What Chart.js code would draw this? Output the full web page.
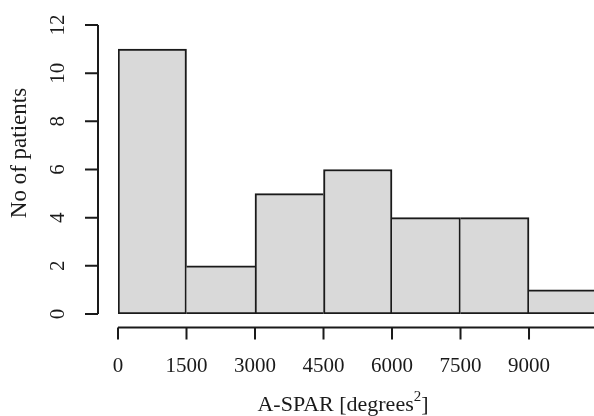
<!DOCTYPE html>
<html>
<head>
<meta charset="utf-8">
<script src="https://cdn.jsdelivr.net/npm/chart.js@4/dist/chart.umd.min.js"></script>
<style>
  html, body { margin: 0; padding: 0; background: #fff; }
  #wrap { width: 594px; height: 416px; position: relative; }
</style>
</head>
<body>
<div id="wrap"><canvas id="hist"></canvas></div>
<script>
// histogram bins (lower edge) and counts
const binStarts = [0, 1500, 3000, 4500, 6000, 7500, 9000];
const binWidth = 1500;
const counts = [11, 2, 5, 6, 4, 4, 1];
const xTicks = [0, 1500, 3000, 4500, 6000, 7500, 9000, 10500];
const yTicks = [0, 2, 4, 6, 8, 10, 12];
const xTitle = "A-SPAR [degrees";
const yTitle = "No of patients";

const FONT = "'Liberation Serif', 'Times New Roman', serif";
const INK = "#1a1a1a";

// shared edges between bins are drawn once, by the taller bar
function edgeWidths(i) {
  const prev = i > 0 ? counts[i - 1] : -1;
  const next = i < counts.length - 1 ? counts[i + 1] : -1;
  return {
    top: 2,
    bottom: 2,
    left: prev < counts[i] ? 2 : 0,
    right: next <= counts[i] ? 2 : 0,
  };
}

// R style axes drawn from the chart's own scales
const rAxes = {
  id: "rAxes",
  afterDraw(chart) {
    const ctx = chart.ctx;
    const xs = chart.scales.x;
    const ys = chart.scales.y;
    ctx.save();
    ctx.strokeStyle = INK;
    ctx.fillStyle = INK;
    ctx.lineWidth = 2;
    ctx.font = "21px " + FONT;

    // y axis
    const yAxisX = 98;
    const y0 = ys.getPixelForValue(ys.ticks[0].value);
    const y1 = ys.getPixelForValue(ys.ticks[ys.ticks.length - 1].value);
    ctx.beginPath();
    ctx.moveTo(yAxisX, y0);
    ctx.lineTo(yAxisX, y1);
    ys.ticks.forEach((t) => {
      const py = ys.getPixelForValue(t.value);
      ctx.moveTo(yAxisX, py);
      ctx.lineTo(yAxisX - 13, py);
    });
    ctx.stroke();
    ctx.textAlign = "center";
    ctx.textBaseline = "middle";
    ys.ticks.forEach((t) => {
      const py = ys.getPixelForValue(t.value);
      ctx.save();
      ctx.translate(58, py);
      ctx.rotate(-Math.PI / 2);
      ctx.fillText(String(t.value), 0, 0);
      ctx.restore();
    });

    // x axis
    const xAxisY = 327.5;
    const xa = xs.getPixelForValue(xs.ticks[0].value);
    const xb = xs.getPixelForValue(xs.ticks[xs.ticks.length - 1].value);
    ctx.beginPath();
    ctx.moveTo(xa, xAxisY);
    ctx.lineTo(xb, xAxisY);
    xs.ticks.forEach((t) => {
      const px = xs.getPixelForValue(t.value);
      ctx.moveTo(px, xAxisY);
      ctx.lineTo(px, xAxisY + 12);
    });
    ctx.stroke();
    xs.ticks.forEach((t) => {
      const px = xs.getPixelForValue(t.value);
      const tw = ctx.measureText(String(t.value)).width;
      if (px + tw / 2 <= chart.width) ctx.fillText(String(t.value), px, 366);
    });

    // titles
    const big = "22px " + FONT;
    const small = "15px " + FONT;
    ctx.font = big;
    const w = ctx.measureText(xTitle).width;
    const wb = ctx.measureText("]").width;
    ctx.font = small;
    const ws = ctx.measureText("2").width;
    const startX = 343 - (w + ws + wb) / 2;
    ctx.textAlign = "left";
    ctx.font = big;
    ctx.fillText(xTitle, startX, 405);
    ctx.font = small;
    ctx.fillText("2", startX + w, 397);
    ctx.font = big;
    ctx.fillText("]", startX + w + ws, 405);

    ctx.save();
    ctx.font = "23px " + FONT;
    ctx.translate(20, 153);
    ctx.rotate(-Math.PI / 2);
    ctx.textAlign = "center";
    ctx.fillText(yTitle, 0, 0);
    ctx.restore();
    ctx.restore();
  },
};

const ctx = document.getElementById("hist").getContext("2d");
new Chart(ctx, {
  type: "bar",
  data: {
    datasets: [
      {
        data: binStarts.map((s, i) => ({ x: s + binWidth / 2, y: counts[i] })),
        backgroundColor: "#d9d9d9",
        borderColor: INK,
        borderWidth: (c) => edgeWidths(c.dataIndex),
        borderSkipped: false,
        barPercentage: 1,
        categoryPercentage: 1,
      },
    ],
  },
  options: {
    responsive: true,
    maintainAspectRatio: false,
    animation: false,
    layout: { padding: { left: 118, right: 0, top: 25, bottom: 102 } },
    plugins: { legend: { display: false }, tooltip: { enabled: false } },
    scales: {
      x: {
        type: "linear",
        display: false,
        offset: false,
        min: 0,
        max: 10423,
        afterBuildTicks: (s) => {
          s.ticks = xTicks.map((v) => ({ value: v }));
        },
      },
      y: {
        type: "linear",
        display: false,
        min: 0,
        max: 12,
        afterBuildTicks: (s) => {
          s.ticks = yTicks.map((v) => ({ value: v }));
        },
      },
    },
  },
  plugins: [rAxes],
});
</script>
</body>
</html>
